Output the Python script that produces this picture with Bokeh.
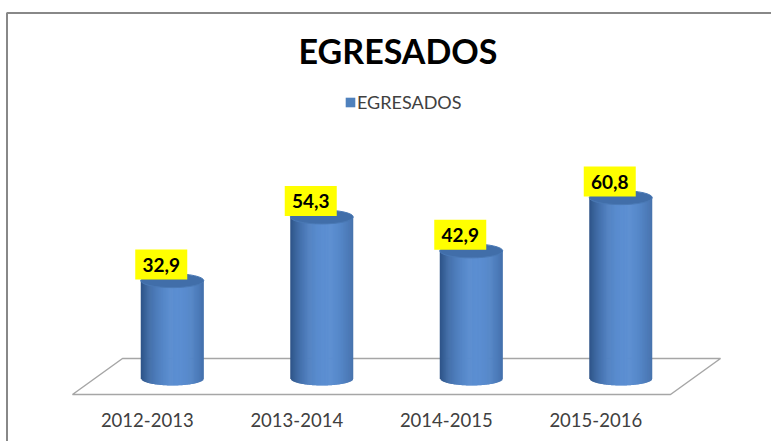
import math
from bokeh.plotting import figure
from bokeh.models import Range1d, Legend, LegendItem
from bokeh.core.properties import value
from bokeh.embed import file_html
from bokeh.resources import INLINE

# ---------------- data ----------------
title_text = "EGRESADOS"
series_name = "EGRESADOS"
categories = ["2012-2013", "2013-2014", "2014-2015", "2015-2016"]
values = [32.9, 54.3, 42.9, 60.8]
value_labels = ["32,9", "54,3", "42,9", "60,8"]

# ---------------- layout / projection constants ----------------
W, H = 771, 441
PX_PER_CAT = 149.5      # pixels per category slot along the floor front edge
PX_PER_VAL = 2.975      # pixels per value unit
ORIGIN_X_PX = 72        # canvas x of the floor's front-left corner
ORIGIN_Y_PX = 378       # canvas y of the cylinders' base (value 0)
DEPTH_X_PX = 50         # horizontal shift of floor back edge
FLOOR_FRONT_PX = 16     # floor front edge below base
FLOOR_BACK_PX = 20      # floor back edge above base
CYL_R_PX = 31.5
CYL_B_PX = 7.0
BASELINE_FIX = 0.4      # text glyph baseline correction (fraction of font size)

x0 = -ORIGIN_X_PX / PX_PER_CAT
x1 = x0 + W / PX_PER_CAT
y1 = ORIGIN_Y_PX / PX_PER_VAL
y0 = y1 - H / PX_PER_VAL


def px_x(px):
    return x0 + px / PX_PER_CAT


def px_y(py):
    return y1 - py / PX_PER_VAL


def dx(px):
    return px / PX_PER_CAT


def dy(px):
    return px / PX_PER_VAL


FONT = value("Lato")

p = figure(width=W, height=H, x_range=Range1d(x0, x1), y_range=Range1d(y0, y1),
           output_backend="svg", toolbar_location=None, min_border=0,
           x_axis_type=None, y_axis_type=None)
p.grid.visible = False
p.outline_line_color = None
p.background_fill_color = "white"
p.border_fill_color = "white"

# chart border (left and top edges visible)
p.line(x=[px_x(6.5), px_x(6.5), px_x(775)], y=[px_y(450), px_y(12.5), px_y(12.5)],
       line_color="#888888", line_width=2)

# floor
n = len(categories)
p.patch(x=[0, n, n + dx(DEPTH_X_PX), dx(DEPTH_X_PX)],
        y=[-dy(FLOOR_FRONT_PX), -dy(FLOOR_FRONT_PX), dy(FLOOR_BACK_PX), dy(FLOOR_BACK_PX)],
        fill_color="white", line_color="#a6a6a6", line_width=1.5)

# cylinders with shaded sides
r = dx(CYL_R_PX)
b = dy(CYL_B_PX)
centers = [i + 0.5 + dx(DEPTH_X_PX / 2) for i in range(n)]
dark = (40, 76, 126)
light = (92, 143, 210)
N = 60
overlap = dx(0.7)
xs, ys, cols = [], [], []
for cx, v in zip(centers, values):
    for k in range(N):
        ul = -1 + 2 * k / N
        ur = -1 + 2 * (k + 1) / N
        um = (ul + ur) / 2
        t = max(0.0, 1 - ((um - 0.15) / 1.2) ** 2) ** 0.9
        c = tuple(int(dark[j] + (light[j] - dark[j]) * t) for j in range(3))
        cols.append("#%02x%02x%02x" % c)
        xr = cx + ur * r + (overlap if k < N - 1 else 0)
        xs.append([cx + ul * r, xr, xr, cx + ul * r])
        ys.append([-b * math.sqrt(max(0, 1 - ul * ul)), -b * math.sqrt(max(0, 1 - ur * ur)), v, v])
p.patches(xs=xs, ys=ys, fill_color=cols, line_color=None)

# top faces
p.ellipse(x=centers, y=values, width=2 * r, height=2 * b,
          fill_color="#416ea9", line_color="#4a79b5", line_width=1)

# value labels with yellow boxes
lab_x = [c - dx(11) for c in centers]
p.rect(x=lab_x, y=[v + dy(16) for v in values], width=52, height=30,
       width_units="screen", height_units="screen", fill_color="#ffff00", line_color=None)
p.text(x=lab_x, y=[v + dy(8 + BASELINE_FIX * 19) for v in values], text=value_labels,
       text_font=FONT, text_font_style="bold", text_font_size="19px",
       text_color="#000000", text_align="center", text_baseline="alphabetic")

# category labels
p.text(x=[i + 0.5 for i in range(n)],
       y=[-dy(427 - ORIGIN_Y_PX - BASELINE_FIX * 18.5)] * n, text=categories,
       text_font=FONT, text_font_size="18.5px", text_color="#404040",
       text_align="center", text_baseline="alphabetic")

# title
p.text(x=[px_x(397.5)], y=[px_y(64 - BASELINE_FIX * 34)], text=[title_text], text_font=FONT,
       text_font_style="bold", text_font_size="34px", text_color="#000000",
       text_align="center", text_baseline="alphabetic")

# legend (its swatch renderer sits outside the visible range)
swatch = p.quad(left=[x1 + 1], right=[x1 + 2], top=[y1 + 1], bottom=[y1 + 2],
                fill_color="#4f81bd", line_color=None)
legend = Legend(items=[LegendItem(label=series_name, renderers=[swatch])],
                location=(344, H - 97 - 16), orientation="horizontal",
                glyph_width=12, glyph_height=12, label_standoff=1, label_height=16,
                padding=0, margin=0, spacing=0,
                label_text_font="Lato", label_text_font_size="18px", label_text_color="#404040",
                border_line_color=None, background_fill_alpha=0)
p.add_layout(legend)

open("out.html", "w").write(file_html(p, INLINE))
